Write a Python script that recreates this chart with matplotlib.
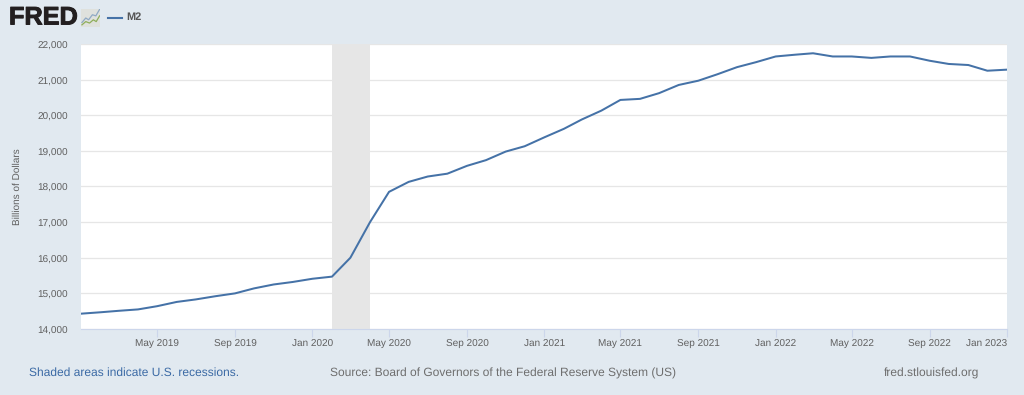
import numpy as np
import pandas as pd
import matplotlib
matplotlib.use("Agg")
import matplotlib.pyplot as plt
import matplotlib.patheffects as pe
from matplotlib.patches import Rectangle
from matplotlib.transforms import ScaledTranslation

plt.rcParams['font.family'] = ['Liberation Sans', 'DejaVu Sans']
plt.rcParams['text.hinting'] = 'no_hinting'
plt.rcParams['text.hinting_factor'] = 1

dates = pd.date_range("2019-01-01", "2023-01-01", freq="MS")
m2 = [14430, 14470, 14510, 14550, 14640, 14760, 14830, 14920, 15000, 15140, 15250, 15320,
      15410, 15470, 16000, 17000, 17850, 18130, 18280, 18360, 18580, 18740, 18980, 19130,
      19380, 19620, 19880, 20130, 20430, 20460, 20620, 20850, 20970, 21150, 21350, 21490,
      21650, 21700, 21740, 21650, 21650, 21610, 21650, 21650, 21530, 21440, 21410, 21250, 21280]
yticks = [14000, 15000, 16000, 17000, 18000, 19000, 20000, 21000, 22000]
xtick_dates = ["2019-05-01", "2019-09-01", "2020-01-01", "2020-05-01", "2020-09-01", "2021-01-01",
               "2021-05-01", "2021-09-01", "2022-01-01", "2022-05-01", "2022-09-01", "2023-01-01"]
recession = ("2020-02-01", "2020-04-01")

W, H = 1024, 395
BG = "#e1e9f0"
fig = plt.figure(figsize=(W / 100, H / 100), dpi=100, facecolor=BG)
L, R, T, B = 81, 1007, 44, 329
ax = fig.add_axes([L / W, 1 - B / H, (R - L) / W, (B - T) / H], facecolor="white")

ax.axvspan(pd.Timestamp(recession[0]), pd.Timestamp(recession[1]), color="#e6e6e6", lw=0, zorder=1)
ax.plot(dates, m2, color="#4572a7", lw=1.45, zorder=3, solid_joinstyle="round")
ax.set_xlim(dates[0], dates[-1])
ax.set_ylim(14000, 22000)

ax.set_yticks(yticks)
ax.set_yticklabels([f"{v:,}" for v in yticks], fontsize=7.1, color="#606060")
ax.tick_params(axis="y", length=0, pad=9.5)
for lab in ax.get_yticklabels():
    lab.set_transform(lab.get_transform() + ScaledTranslation(0, -1 / 100, fig.dpi_scale_trans))
xt = pd.to_datetime(xtick_dates)
ax.set_xticks(xt)
ax.set_xticklabels([d.strftime("%b %Y") for d in xt], fontsize=7.0, color="#606060")
ax.tick_params(axis="x", length=6, width=0.8, color="#ccd6eb", pad=2)
ax.get_xticklabels()[-1].set_ha("right")
ax.grid(axis="y", color="#e6e6e6", lw=0.9, zorder=0)
ax.set_axisbelow(True)
for s in ("top", "left", "right"):
    ax.spines[s].set_visible(False)
ax.spines["bottom"].set_color("#ccd6eb")
ax.spines["bottom"].set_linewidth(0.8)

fig.text(17 / W, 1 - 187 / H, "Billions of Dollars", rotation=90, ha="center", va="center",
         fontsize=7.5, color="#606060")

# header
logo = fig.text(9 / W, 1 - 18 / H, "FRED", fontsize=18.2, fontweight="bold", color="#231f20",
                ha="left", va="center")
logo.set_path_effects([pe.withStroke(linewidth=0.7, foreground="#231f20")])
icon = fig.add_axes([81 / W, 1 - 27 / H, 19 / W, 18 / H], facecolor="#e4e6e2")
icon.set_xlim(0, 1); icon.set_ylim(0, 1); icon.axis("off")
icon.add_patch(Rectangle((0, 0), 1, 1, color="#dfe1dd", lw=0))
icon.plot([0.05, 0.25, 0.4, 0.6, 0.78, 0.98], [0.25, 0.5, 0.4, 0.68, 0.62, 0.98], color="#8fa9c4", lw=0.9)
icon.plot([0.05, 0.25, 0.45, 0.65, 0.8, 0.98], [0.12, 0.3, 0.22, 0.4, 0.3, 0.62], color="#8fae5a", lw=0.9)

fig.add_artist(plt.Line2D([108 / W, 122 / W], [1 - 17.5 / H] * 2, color="#4572a7", lw=1.5))
fig.text(126 / W, 1 - 17.5 / H, "M2", fontsize=7.8, fontweight="bold", color="#555555", ha="left", va="center")

# footer
fig.text(29 / W, 1 - 373 / H, "Shaded areas indicate U.S. recessions.", fontsize=8.95, color="#3b6aa5", ha="left", va="center")
fig.text(330 / W, 1 - 373 / H, "Source: Board of Governors of the Federal Reserve System (US)", fontsize=8.95, color="#6e6e6e", ha="left", va="center")
fig.text(979 / W, 1 - 373 / H, "fred.stlouisfed.org", fontsize=8.95, color="#6e6e6e", ha="right", va="center")

fig.savefig("out.png", dpi=100, facecolor=BG)
